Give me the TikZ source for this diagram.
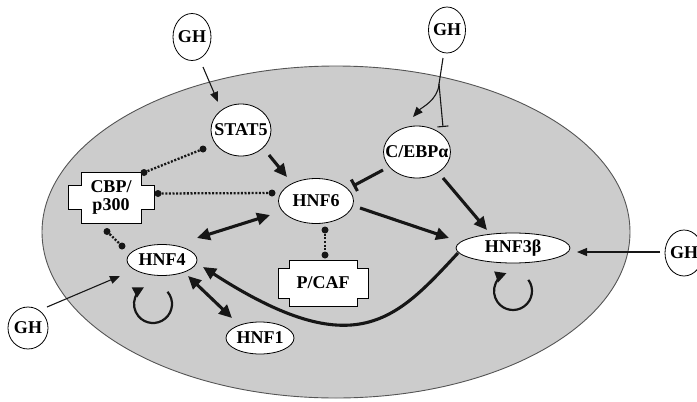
\documentclass[tikz,border=0pt]{standalone}
\usepackage{fontspec}
\setmainfont{Liberation Serif}
\usetikzlibrary{arrows.meta,shapes.geometric,calc}

\definecolor{cellfill}{RGB}{204,204,204}
\definecolor{cellline}{RGB}{85,85,85}
\definecolor{ink}{RGB}{22,22,22}

% text that does not widen its ellipse
\newcommand\ctext[1]{\makebox[0pt]{#1}}

% notched box: half sizes a,b of the core, c,d of the side wings
\newcommand\notchedbox[5]{%
  \draw[boxline] ($(#1)+(-#2,-#3)$) -- ($(#1)+(#2,-#3)$) -- ($(#1)+(#2,-#5)$)
    -- ($(#1)+(#4,-#5)$) -- ($(#1)+(#4,#5)$) -- ($(#1)+(#2,#5)$)
    -- ($(#1)+(#2,#3)$) -- ($(#1)+(-#2,#3)$) -- ($(#1)+(-#2,#5)$)
    -- ($(#1)+(-#4,#5)$) -- ($(#1)+(-#4,-#5)$) -- ($(#1)+(-#2,-#5)$) -- cycle;}

\begin{document}
\begin{tikzpicture}[x=1pt,y=-1pt,
  every node/.style={font=\fontsize{18}{18.5}\selectfont\bfseries, text=black},
  factor/.style={ellipse, draw=black, line width=0.8pt, fill=white, inner sep=0pt},
  boxline/.style={draw=black, line width=0.8pt, fill=white},
  thinline/.style={draw=ink, line width=1.1pt},
  thinarr/.style={thinline, -{Triangle[length=10pt,width=8pt]}},
  thinbar/.style={thinline, -{Bar[width=11pt,line width=1.1pt]}},
  thickarr/.style={draw=ink, line width=3.1pt, -{Triangle[length=13pt,width=12pt]}},
  bothways/.style={draw=ink, line width=3.1pt, {Triangle[length=13pt,width=12pt]}-{Triangle[length=13pt,width=12pt]}},
  thickbar/.style={draw=ink, line width=3.1pt, -{Bar[width=13pt,line width=3.1pt]}},
  selfloop/.style={draw=ink, line width=2.2pt, -{Triangle[length=11pt,width=11pt]}},
  dotend/.style={circle, fill=ink, inner sep=0pt, minimum size=7pt},
  dotlink/.style={draw=ink, line width=2.3pt, dash pattern=on 2pt off 1.6pt}]

\useasboundingbox (0,0) rectangle (697,402);

% the cell
\draw[fill=cellfill, draw=cellline, line width=0.9pt] (336,232) ellipse [x radius=294, y radius=166];

% co-activator boxes
\coordinate (cbpc) at (111,197.5);
\notchedbox{cbpc}{30}{25.5}{43}{12}
\node[align=center, inner sep=0pt] (cbp) at (cbpc) {CBP/\\p300};
\coordinate (pcafc) at (323,283);
\notchedbox{pcafc}{34}{23}{45}{15}
\node[inner sep=0pt] (pcaf) at (pcafc) {P/CAF};

% factors
\node[factor, minimum width=60, minimum height=52] (stat5) at (241,130) {\ctext{STAT5}};
\node[factor, minimum width=67, minimum height=52] (cebp) at (417,152) {\ctext{C/EBPα}};
\node[factor, minimum width=75, minimum height=45] (hnf6) at (316,201) {\ctext{HNF6}};
\node[factor, minimum width=70, minimum height=31] (hnf4) at (162,260) {\ctext{HNF4}};
\node[factor, minimum width=68, minimum height=32] (hnf1) at (260,338) {\ctext{HNF1}};
\node[factor, minimum width=114, minimum height=30] (hnf3b) at (513,248) {\ctext{HNF3β}};

% growth hormone signals
\node[factor, minimum width=38, minimum height=47] (gh1) at (192,37) {\ctext{GH}};
\node[factor, minimum width=37, minimum height=46] (gh2) at (447,30) {\ctext{GH}};
\node[factor, minimum width=38, minimum height=46] (gh3) at (684,253) {\ctext{GH}};
\node[factor, minimum width=40, minimum height=42] (gh4) at (28,328) {\ctext{GH}};

% GH inputs
\draw[thinarr] ($(gh1)+(11,30)$) -- ($(stat5)+(-23,-28)$);
\coordinate (fork) at ($(gh2)+(-8,54)$);
\draw[thinline] ($(gh2)+(-4,28)$) -- (fork);
\draw[thinarr] (fork) .. controls ($(gh2)+(-9,70)$) and ($(cebp)+(4,-44)$) .. ($(cebp)+(-4,-35)$);
\draw[thinbar] (fork) .. controls ($(gh2)+(-6,75)$) .. ($(cebp)+(26,-25)$);
\draw[thinarr] ($(gh3)+(-24,-1)$) -- ($(hnf3b)+(64,4)$);
\draw[thinarr] ($(gh4)+(19,-21)$) -- ($(hnf4)+(-42,16)$);

% regulatory links
\draw[thickarr] ($(stat5)+(28,25)$) -- ($(hnf6)+(-29,-24)$);
\draw[thickbar] ($(cebp)+(-34,18)$) -- ($(hnf6)+(37,-15)$);
\draw[thickarr] ($(cebp)+(26,26)$) -- ($(hnf3b)+(-26,-18)$);
\draw[thickarr] ($(hnf6)+(44,7)$) -- ($(hnf3b)+(-64,-10)$);
\draw[bothways] ($(hnf4)+(35,-22)$) -- ($(hnf6)+(-46,14)$);
\draw[bothways] ($(hnf4)+(26,16)$) -- ($(hnf1)+(-28,-20)$);
\draw[thickarr] ($(hnf3b)+(-55,5)$) .. controls ($(hnf3b)+(-116.5,71)$) and ($(hnf4)+(194,106)$) .. ($(hnf4)+(41,7)$);

% autoregulation
\draw[selfloop] ($(hnf4)+(-9,44)$) ++(-40:19) arc[start angle=-40, end angle=242, radius=19];
\draw[selfloop] ($(hnf3b)+(0,43)$) ++(-36:19) arc[start angle=-36, end angle=250, radius=19];

% protein-protein contacts
\node[dotend] (s1) at ($(stat5)+(-38,19)$) {};
\node[dotend] (c1) at ($(cbp)+(33,-25)$) {};
\node[dotend] (c2) at ($(cbp)+(47,-4)$) {};
\node[dotend] (h1) at ($(hnf6)+(-44,-8)$) {};
\node[dotend] (c3) at ($(cbp)+(-4,34)$) {};
\node[dotend] (f1) at ($(hnf4)+(-40,-14)$) {};
\node[dotend] (h2) at ($(hnf6)+(9,29)$) {};
\node[dotend] (p1) at ($(pcaf)+(2,-28)$) {};
\draw[dotlink] (s1) -- (c1);
\draw[dotlink] (c2) -- (h1);
\draw[dotlink] (c3) -- (f1);
\draw[dotlink] (h2) -- (p1);
\end{tikzpicture}
\end{document}
